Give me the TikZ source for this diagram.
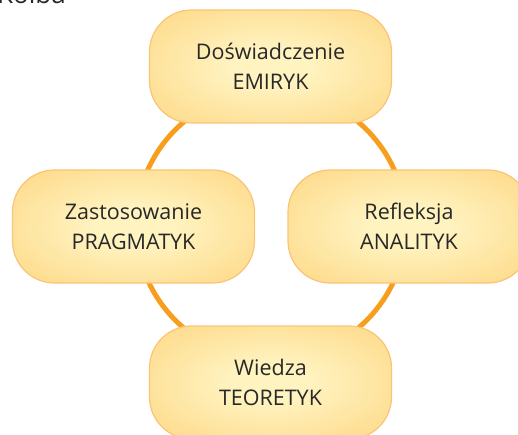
\documentclass[tikz,border=0pt]{standalone}
\usepackage{fontspec}
\setmainfont{Open Sans}
\usetikzlibrary{shapes.misc}
\definecolor{boxin}{RGB}{255,243,192}
\definecolor{boxout}{RGB}{253,210,120}
\definecolor{boxline}{RGB}{250,196,118}
\definecolor{ring}{RGB}{247,158,30}
\definecolor{txt}{RGB}{40,40,40}
\pgfdeclareradialshading{boxshade}{\pgfpoint{0bp}{0bp}}{color(0bp)=(boxin); color(8bp)=(boxin); color(42bp)=(boxout); color(50bp)=(boxout)}
\tikzset{
  stagebox/.style={draw=boxline, line width=1.2pt, shading=boxshade,
    rounded corners=42pt, minimum width=242pt, minimum height=113pt,
    inner sep=0pt, text=txt, align=center,
    font=\fontsize{21.5}{30}\selectfont},
}
\begin{document}
\begin{tikzpicture}[x=1pt,y=-1pt]
\useasboundingbox (0,0) rectangle (518,435);
\clip (0,0) rectangle (518,435);
\draw[ring, line width=5pt] (271,225) circle[radius=135];
\node[stagebox] (top) at (270.5,66.5) {Doświadczenie\\EMIRYK};
\node[stagebox] (left) at (133.5,226.5) {Zastosowanie\\PRAGMATYK};
\node[stagebox] (right) at (409,226.5) {Refleksja\\ANALITYK};
\node[stagebox] (bottom) at (270.5,382.5) {Wiedza\\TEORETYK};
\node[anchor=base west, inner sep=0pt, text=txt, font=\fontsize{26}{30}\selectfont] (title) at (-3,4) {Kolba};
\end{tikzpicture}
\end{document}
